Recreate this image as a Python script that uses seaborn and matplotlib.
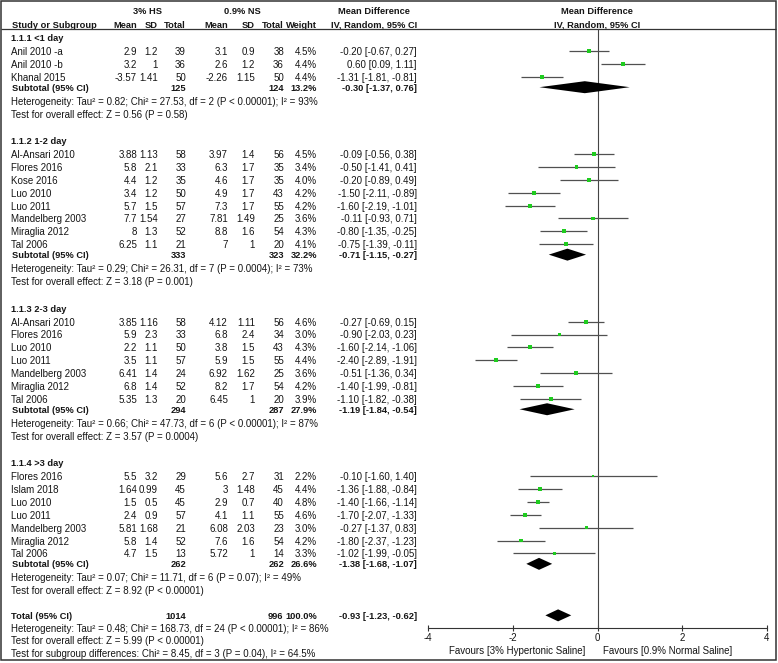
import matplotlib
matplotlib.use('Agg')
import matplotlib.pyplot as plt
import seaborn as sns
import pandas as pd
from matplotlib.patches import Rectangle

sns.set_theme(style='white')
plt.rcParams['font.family'] = ['Liberation Sans', 'DejaVu Sans']

# ---------------- data ----------------
group_labels = ["1.1.1 <1 day", "1.1.2 1-2 day", "1.1.3 2-3 day", "1.1.4 >3 day"]
group_sizes = [3, 8, 7, 7]
studies = ["Anil 2010 -a", "Anil 2010 -b", "Khanal 2015",
           "Al-Ansari 2010", "Flores 2016", "Kose 2016", "Luo 2010", "Luo 2011",
           "Mandelberg 2003", "Miraglia 2012", "Tal 2006",
           "Al-Ansari 2010", "Flores 2016", "Luo 2010", "Luo 2011",
           "Mandelberg 2003", "Miraglia 2012", "Tal 2006",
           "Flores 2016", "Islam 2018", "Luo 2010", "Luo 2011",
           "Mandelberg 2003", "Miraglia 2012", "Tal 2006"]
hs_mean = [2.9, 3.2, -3.57,
           3.88, 5.8, 4.4, 3.4, 5.7, 7.7, 8, 6.25,
           3.85, 5.9, 2.2, 3.5, 6.41, 6.8, 5.35,
           5.5, 1.64, 1.5, 2.4, 5.81, 5.8, 4.7]
hs_sd = [1.2, 1, 1.41,
         1.13, 2.1, 1.2, 1.2, 1.5, 1.54, 1.3, 1.1,
         1.16, 2.3, 1.1, 1.1, 1.4, 1.4, 1.3,
         3.2, 0.99, 0.5, 0.9, 1.68, 1.4, 1.5]
hs_n = [39, 36, 50,
        58, 33, 35, 50, 57, 27, 52, 21,
        58, 33, 50, 57, 24, 52, 20,
        29, 45, 45, 57, 21, 52, 13]
ns_mean = [3.1, 2.6, -2.26,
           3.97, 6.3, 4.6, 4.9, 7.3, 7.81, 8.8, 7,
           4.12, 6.8, 3.8, 5.9, 6.92, 8.2, 6.45,
           5.6, 3, 2.9, 4.1, 6.08, 7.6, 5.72]
ns_sd = [0.9, 1.2, 1.15,
         1.4, 1.7, 1.7, 1.7, 1.7, 1.49, 1.6, 1,
         1.11, 2.4, 1.5, 1.5, 1.62, 1.7, 1,
         2.7, 1.48, 0.7, 1.1, 2.03, 1.6, 1]
ns_n = [38, 36, 50,
        56, 35, 35, 43, 55, 25, 54, 20,
        56, 34, 43, 55, 25, 54, 20,
        31, 45, 40, 55, 23, 54, 14]
weight = [4.5, 4.4, 4.4,
          4.5, 3.4, 4.0, 4.2, 4.2, 3.6, 4.3, 4.1,
          4.6, 3.0, 4.3, 4.4, 3.6, 4.2, 3.9,
          2.2, 4.4, 4.8, 4.6, 3.0, 4.2, 3.3]
md = [-0.20, 0.60, -1.31,
      -0.09, -0.50, -0.20, -1.50, -1.60, -0.11, -0.80, -0.75,
      -0.27, -0.90, -1.60, -2.40, -0.51, -1.40, -1.10,
      -0.10, -1.36, -1.40, -1.70, -0.27, -1.80, -1.02]
ci_lo = [-0.67, 0.09, -1.81,
         -0.56, -1.41, -0.89, -2.11, -2.19, -0.93, -1.35, -1.39,
         -0.69, -2.03, -2.14, -2.89, -1.36, -1.99, -1.82,
         -1.60, -1.88, -1.66, -2.07, -1.37, -2.37, -1.99]
ci_hi = [0.27, 1.11, -0.81,
         0.38, 0.41, 0.49, -0.89, -1.01, 0.71, -0.25, -0.11,
         0.15, 0.23, -1.06, -1.91, 0.34, -0.81, -0.38,
         1.40, -0.84, -1.14, -1.33, 0.83, -1.23, -0.05]

sub_hs_n = [125, 333, 294, 262]
sub_ns_n = [124, 323, 287, 262]
sub_weight = [13.2, 32.2, 27.9, 26.6]
sub_md = [-0.30, -0.71, -1.19, -1.38]
sub_lo = [-1.37, -1.15, -1.84, -1.68]
sub_hi = [0.76, -0.27, -0.54, -1.07]
het_texts = [
    "Heterogeneity: Tau² = 0.82; Chi² = 27.53, df = 2 (P < 0.00001); I² = 93%",
    "Heterogeneity: Tau² = 0.29; Chi² = 26.31, df = 7 (P = 0.0004); I² = 73%",
    "Heterogeneity: Tau² = 0.66; Chi² = 47.73, df = 6 (P < 0.00001); I² = 87%",
    "Heterogeneity: Tau² = 0.07; Chi² = 11.71, df = 6 (P = 0.07); I² = 49%",
]
overall_texts = [
    "Test for overall effect: Z = 0.56 (P = 0.58)",
    "Test for overall effect: Z = 3.18 (P = 0.001)",
    "Test for overall effect: Z = 3.57 (P = 0.0004)",
    "Test for overall effect: Z = 8.92 (P < 0.00001)",
]
total_hs_n = 1014
total_ns_n = 996
total_weight = 100.0
total_md, total_lo, total_hi = -0.93, -1.23, -0.62
total_het = "Heterogeneity: Tau² = 0.48; Chi² = 168.73, df = 24 (P < 0.00001); I² = 86%"
total_overall = "Test for overall effect: Z = 5.99 (P < 0.00001)"
subgroup_test = "Test for subgroup differences: Chi² = 8.45, df = 3 (P = 0.04), I² = 64.5%"
x_ticks = [-4, -2, 0, 2, 4]
favours_left = "Favours [3% Hypertonic Saline]"
favours_right = "Favours [0.9% Normal Saline]"

# ---------------- layout ----------------
W, H = 778, 663
FS = 7.0
FSB = 6.7
TC = '#151515'
X0, X4 = 428, 767          # pixel x of -4 and +4 on the forest scale
COL_HS_MEAN, COL_HS_SD, COL_HS_N = 137, 158, 186
COL_NS_MEAN, COL_NS_SD, COL_NS_N = 228, 255, 284
COL_W, COL_CI = 317, 417
X_TXT = 11

fig = plt.figure(figsize=(W / 100, H / 100), dpi=100)
ax = fig.add_axes([0, 0, 1, 1])
ax.set_xlim(0, W)
ax.set_ylim(H, 0)
ax.axis('off')

axf = fig.add_axes([X0 / W, 0, (X4 - X0) / W, 1])
axf.patch.set_alpha(0)


def txt(x, y, s, ha='left', bold=False):
    ax.text(x, y, s, ha=ha, va='center_baseline', fontsize=FSB if bold else FS,
            fontweight='bold' if bold else 'normal', color=TC)


def fmt(v):
    return f"{v:g}"


def ci_str(m, lo, hi):
    return f"{m:.2f} [{lo:.2f}, {hi:.2f}]"


# headers
txt(148, 11, "3% HS", ha='center', bold=True)
txt(242, 11, "0.9% NS", ha='center', bold=True)
txt(374, 11, "Mean Difference", ha='center', bold=True)
txt(597, 11, "Mean Difference", ha='center', bold=True)
txt(X_TXT + 1, 24, "Study or Subgroup", bold=True)
for x, s in [(COL_HS_MEAN, "Mean"), (COL_HS_SD, "SD"), (COL_HS_N, "Total"),
             (COL_NS_MEAN, "Mean"), (COL_NS_SD, "SD"), (COL_NS_N, "Total"),
             (COL_W, "Weight")]:
    txt(x, 24, s, ha='right', bold=True)
txt(374, 24, "IV, Random, 95% CI", ha='center', bold=True)
txt(597, 24, "IV, Random, 95% CI", ha='center', bold=True)

PITCH = 12.85
y = 37.5
study_y = []
sub_y = []
idx = 0
last_test = None
for g, lab in enumerate(group_labels):
    txt(X_TXT, y, lab, bold=True)
    y += 13.5
    for k in range(group_sizes[g]):
        i = idx + k
        study_y.append(y)
        txt(X_TXT, y, studies[i])
        txt(COL_HS_MEAN, y, fmt(hs_mean[i]), ha='right')
        txt(COL_HS_SD, y, fmt(hs_sd[i]), ha='right')
        txt(COL_HS_N, y, str(hs_n[i]), ha='right')
        txt(COL_NS_MEAN, y, fmt(ns_mean[i]), ha='right')
        txt(COL_NS_SD, y, fmt(ns_sd[i]), ha='right')
        txt(COL_NS_N, y, str(ns_n[i]), ha='right')
        txt(COL_W, y, f"{weight[i]:.1f}%", ha='right')
        txt(COL_CI, y, ci_str(md[i], ci_lo[i], ci_hi[i]), ha='right')
        y += PITCH
    idx += group_sizes[g]
    ys = y - PITCH + 10.5
    sub_y.append(ys)
    txt(X_TXT + 1, ys, "Subtotal (95% CI)", bold=True)
    txt(COL_HS_N, ys, str(sub_hs_n[g]), ha='right', bold=True)
    txt(COL_NS_N, ys, str(sub_ns_n[g]), ha='right', bold=True)
    txt(COL_W, ys, f"{sub_weight[g]:.1f}%", ha='right', bold=True)
    txt(COL_CI, ys, ci_str(sub_md[g], sub_lo[g], sub_hi[g]), ha='right', bold=True)
    txt(X_TXT, ys + 13.5, het_texts[g])
    last_test = ys + 26.5
    txt(X_TXT, last_test, overall_texts[g])
    y = last_test + 27.0

yt = last_test + 25
txt(X_TXT, yt, "Total (95% CI)", bold=True)
txt(COL_HS_N, yt, str(total_hs_n), ha='right', bold=True)
txt(COL_NS_N - 1, yt, str(total_ns_n), ha='right', bold=True)
txt(COL_W, yt, f"{total_weight:.1f}%", ha='right', bold=True)
txt(COL_CI, yt, ci_str(total_md, total_lo, total_hi), ha='right', bold=True)
txt(X_TXT, yt + 12.5, total_het)
txt(X_TXT, yt + 25, total_overall)
txt(X_TXT, yt + 37.5, subgroup_test)

# ---------------- forest panel ----------------
AXIS_Y = 628
df = pd.DataFrame({"y": study_y, "md": md, "lo": ci_lo, "hi": ci_hi, "weight": weight})
axf.vlines(0, 29, AXIS_Y, color='#444444', lw=0.8, zorder=1)
axf.hlines(df["y"], df["lo"], df["hi"], color='#505050', lw=0.9, zorder=2)
sns.scatterplot(data=df, x="md", y="y", size="weight", sizes=(3.0, 9.0),
                size_norm=(2.2, 4.8), marker='s', color='#1fcc1f',
                linewidth=0, legend=False, ax=axf, zorder=3)
DH = 6
for g in range(len(group_labels)):
    axf.fill([sub_lo[g], sub_md[g], sub_hi[g], sub_md[g]],
             [sub_y[g], sub_y[g] - DH, sub_y[g], sub_y[g] + DH],
             color='black', lw=0, zorder=3)
axf.fill([total_lo, total_md, total_hi, total_md],
         [yt, yt - DH, yt, yt + DH], color='black', lw=0, zorder=3)

axf.set_xlim(-4, 4)
axf.set_ylim(H, 0)
axf.set_xlabel("")
axf.set_ylabel("")
axf.set_yticks([])
axf.set_xticks(x_ticks)
axf.set_xticklabels([str(t) for t in x_ticks])
for side in ['top', 'left', 'right']:
    axf.spines[side].set_visible(False)
axf.spines['bottom'].set_position(('data', AXIS_Y))
axf.spines['bottom'].set_color('#333333')
axf.spines['bottom'].set_linewidth(0.8)
axf.tick_params(axis='x', bottom=True, direction='inout', length=4.5, width=0.8,
                color='#333333', labelsize=FS, labelcolor=TC, pad=1.0)
ax.text(585, 650, favours_left, ha='right', va='center_baseline', fontsize=FS, color=TC)
ax.text(603, 650, favours_right, ha='left', va='center_baseline', fontsize=FS, color=TC)

# ---------------- frame ----------------
ax.add_patch(Rectangle((0, 660.5), W, 5, color='white', zorder=10, clip_on=False))
ax.hlines(29, 1, 776, color='#333333', lw=0.9, zorder=11)
ax.add_patch(Rectangle((1, 1), 775, 659, fill=False, ec='#333333', lw=1.1, zorder=11))

fig.savefig("out.png", dpi=100)
